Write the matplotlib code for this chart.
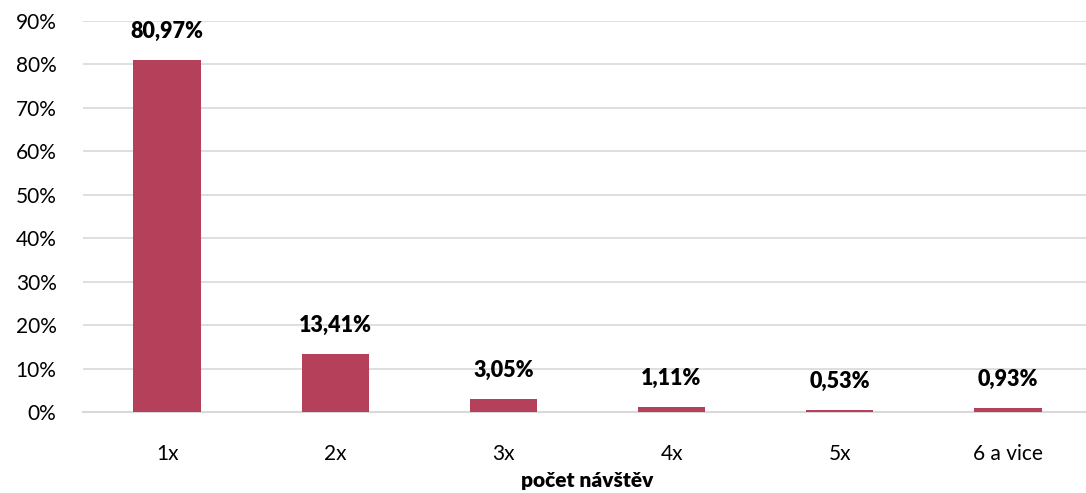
import matplotlib
matplotlib.use("Agg")
import matplotlib.pyplot as plt
from matplotlib.ticker import FuncFormatter

categories = ["1x", "2x", "3x", "4x", "5x", "6 a vice"]
values = [80.97, 13.41, 3.05, 1.11, 0.53, 0.93]
yticks = [0, 10, 20, 30, 40, 50, 60, 70, 80, 90]
xlabel = "počet návštěv"

plt.rcParams['font.family'] = ['Lato', 'DejaVu Sans']

fig = plt.figure(figsize=(10.86, 4.93), dpi=100)
ax = fig.add_axes([83/1086, 81/493, 1009/1086, 391/493])

x = list(range(len(categories)))
bars = ax.bar(x, values, width=0.4, color="#B5405A", zorder=3)
ax.set_xlim(-0.5, len(categories) - 0.5)
ax.set_ylim(0, 90)
ax.set_yticks(yticks)
ax.yaxis.set_major_formatter(FuncFormatter(lambda v, p: f"{int(v)}%"))
ax.set_xticks(x)
ax.set_xticklabels(categories)
ax.grid(axis="y", color="#d9d9d9", linewidth=1.2, zorder=0)
for s in ["top", "right", "left"]:
    ax.spines[s].set_visible(False)
ax.spines["bottom"].set_color("#d9d9d9")
ax.spines["bottom"].set_linewidth(1.5)
ax.tick_params(axis="both", length=0, labelsize=15, colors="black")
ax.tick_params(axis="x", pad=23)
ax.tick_params(axis="y", pad=19)

for b, v in zip(bars, values):
    ax.annotate(f"{v:.2f}%".replace(".", ","), (b.get_x() + b.get_width() / 2, v),
                xytext=(0, 13), textcoords="offset points", ha="center", va="bottom",
                fontsize=15.5, fontweight="heavy")

fig.text(0.5 * (83 + 1092) / 1086, 12 / 493, xlabel, ha="center", va="center",
         fontsize=15, fontweight="heavy")

fig.savefig("out.png", dpi=100)
